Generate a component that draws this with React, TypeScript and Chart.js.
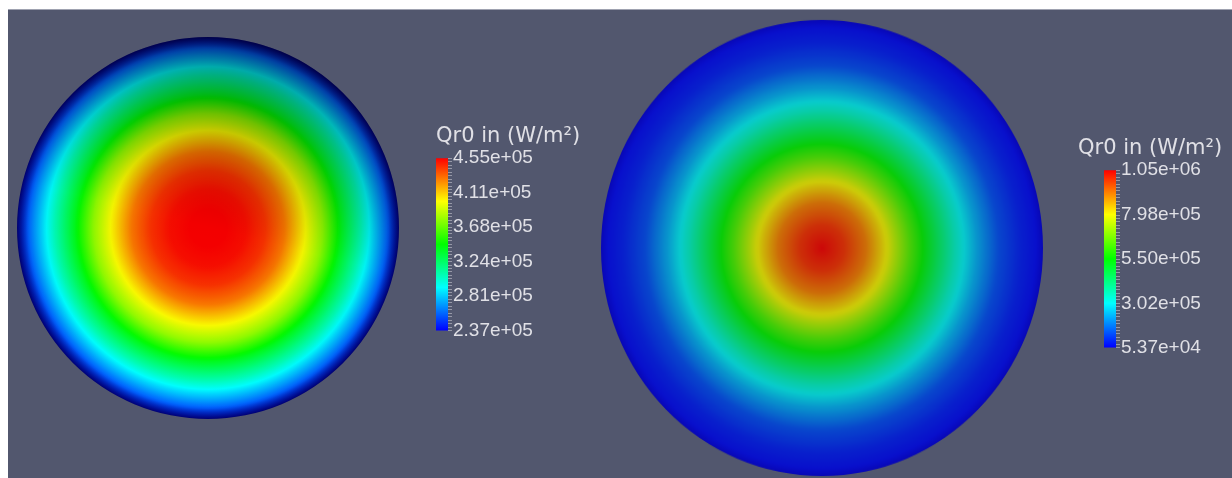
import { useEffect, useRef } from "react";
import { Chart, registerables } from "chart.js";

Chart.register(...registerables);

// Radial sample positions, as a fraction of the disk radius (centre -> rim)
const radialPositions = [0, 0.1, 0.2, 0.3, 0.4, 0.5, 0.6, 0.7, 0.8, 0.9, 1.0];

// Qr0 (W/m²) along the radius of each disk
const qrLeft = [4.55e5, 4.55e5, 4.52e5, 4.44e5, 4.29e5, 4.03e5, 3.77e5, 3.39e5, 3.07e5, 2.72e5, 2.37e5];
const qrRight = [1.05e6, 1.0e6, 9.2e5, 7.91e5, 6.31e5, 4.92e5, 3.52e5, 2.33e5, 1.33e5, 8.4e4, 5.37e4];

// Colour-bar ranges [min, max] and tick labels
const rangeLeft = [2.37e5, 4.55e5];
const rangeRight = [5.37e4, 1.05e6];
const tickLabelsLeft = ["2.37e+05", "2.81e+05", "3.24e+05", "3.68e+05", "4.11e+05", "4.55e+05"];
const tickLabelsRight = ["5.37e+04", "3.02e+05", "5.50e+05", "7.98e+05", "1.05e+06"];
const barTitle = "Qr0 in (W/m²)";

const BG = "#52576e";
const TEXT = "#e0e0e6";

// Blue -> red HSV rainbow (hue 240° down to 0°)
function rainbow(t: number): [number, number, number] {
  const c = Math.min(1, Math.max(0, t));
  const h = (1 - c) * 240;
  const x = 1 - Math.abs(((h / 60) % 2) - 1);
  let r = 0, g = 0, b = 0;
  if (h < 60) { r = 1; g = x; }
  else if (h < 120) { r = x; g = 1; }
  else if (h < 180) { g = 1; b = x; }
  else { g = x; b = 1; }
  return [r * 255, g * 255, b * 255];
}

function profileAt(values: number[], f: number): number {
  for (let i = 1; i < radialPositions.length; i++) {
    if (f <= radialPositions[i]) {
      const f0 = radialPositions[i - 1];
      const f1 = radialPositions[i];
      const u = (f - f0) / (f1 - f0);
      return values[i - 1] + (values[i] - values[i - 1]) * u;
    }
  }
  return values[values.length - 1];
}

type Shade = { base: number; ambient: number; rimStart: number; rimDark: number; topDark: number };

type DiskProps = {
  left: number;
  top: number;
  size: number;
  scaleY: number;
  values: number[];
  range: number[];
  shade: Shade;
};

function Disk({ left, top, size, scaleY, values, range, shade }: DiskProps) {
  const ref = useRef<HTMLCanvasElement>(null);

  useEffect(() => {
    const fill = (chart: Chart) => {
      const a = chart.chartArea;
      if (!a) return BG;
      const cx = (a.left + a.right) / 2;
      const cy = (a.top + a.bottom) / 2;
      const R = Math.min(a.right - a.left, a.bottom - a.top) / 2;
      const grad = chart.ctx.createRadialGradient(cx, cy, 0, cx, cy, R);
      const steps = 90;
      for (let k = 0; k <= steps; k++) {
        const f = k / steps;
        const v = profileAt(values, f);
        const [r, g, b] = rainbow((v - range[0]) / (range[1] - range[0]));
        let s = shade.base;
        if (f > shade.rimStart) s *= 1 - ((f - shade.rimStart) / (1 - shade.rimStart)) * shade.rimDark;
        const col = (c: number) => Math.round(Math.min(255, c * s + shade.ambient));
        grad.addColorStop(f, `rgb(${col(r)},${col(g)},${col(b)})`);
      }
      return grad;
    };

    // Soft lighting across the disk surface
    const lighting = {
      id: "lighting",
      afterDatasetsDraw(chart: Chart) {
        if (!shade.topDark) return;
        const arc = chart.getDatasetMeta(0).data[0] as any;
        const { x, y, outerRadius } = arc;
        const ctx = chart.ctx;
        ctx.save();
        ctx.beginPath();
        ctx.arc(x, y, outerRadius, 0, Math.PI * 2);
        const g = ctx.createLinearGradient(x + outerRadius * 0.25, y - outerRadius, x - outerRadius * 0.25, y + outerRadius);
        g.addColorStop(0, `rgba(0,0,0,${shade.topDark})`);
        g.addColorStop(0.5, `rgba(0,0,0,${shade.topDark * 0.12})`);
        g.addColorStop(1, "rgba(0,0,0,0)");
        ctx.fillStyle = g;
        ctx.fill();
        ctx.restore();
      },
    };

    const chart = new Chart(ref.current!, {
      type: "pie",
      data: {
        labels: ["Qr0"],
        datasets: [
          {
            data: [1],
            backgroundColor: (ctx: any) => fill(ctx.chart),
            borderWidth: 0,
            hoverOffset: 0,
          },
        ],
      },
      options: {
        animation: false,
        responsive: true,
        maintainAspectRatio: false,
        events: [],
        layout: { padding: 0 },
        plugins: { legend: { display: false }, tooltip: { enabled: false } },
      },
      plugins: [lighting],
    });
    return () => chart.destroy();
  }, []);

  return (
    <div
      style={{
        position: "absolute",
        left,
        top,
        width: size,
        height: size,
        transform: `scaleY(${scaleY})`,
      }}
    >
      <canvas ref={ref} />
    </div>
  );
}

type BarProps = {
  left: number;
  top: number;
  width: number;
  height: number;
  gap: number;
  barWidth: number;
  titlePadTop: number;
  titlePadBottom: number;
  range: number[];
  labels: string[];
  minorPerMajor: number;
};

function ColorBar({ left, top, width, height, gap, barWidth, titlePadTop, titlePadBottom, range, labels, minorPerMajor }: BarProps) {
  const ref = useRef<HTMLCanvasElement>(null);

  useEffect(() => {
    const majors = labels.map((s) => parseFloat(s));
    const tickValues: number[] = [];
    for (let i = 0; i < majors.length - 1; i++) {
      for (let k = 0; k < minorPerMajor; k++) {
        tickValues.push(majors[i] + ((majors[i + 1] - majors[i]) * k) / minorPerMajor);
      }
    }
    tickValues.push(majors[majors.length - 1]);

    const fill = (chart: Chart) => {
      const a = chart.chartArea;
      if (!a) return BG;
      const g = chart.ctx.createLinearGradient(0, a.bottom, 0, a.top);
      for (let k = 0; k <= 24; k++) {
        const [r, gg, b] = rainbow(k / 24);
        g.addColorStop(k / 24, `rgb(${Math.round(r)},${Math.round(gg)},${Math.round(b)})`);
      }
      return g;
    };

    const chart = new Chart(ref.current!, {
      type: "bar",
      data: {
        labels: [""],
        datasets: [
          {
            data: [[range[0], range[1]]] as any,
            xAxisID: "x",
            yAxisID: "y",
            backgroundColor: (ctx: any) => fill(ctx.chart),
            borderWidth: 0,
            borderSkipped: false,
            barPercentage: 1,
            categoryPercentage: 1,
          },
        ],
      },
      options: {
        animation: false,
        responsive: true,
        maintainAspectRatio: false,
        events: [],
        layout: { padding: { left: 0, right: 0, top: 0, bottom: 12 } },
        plugins: {
          legend: { display: false },
          tooltip: { enabled: false },
          title: {
            display: true,
            text: barTitle,
            align: "start",
            color: TEXT,
            font: { family: "'DejaVu Sans', sans-serif", size: 21, weight: "normal", lineHeight: 1.2 },
            padding: { top: titlePadTop, bottom: titlePadBottom },
          },
        },
        scales: {
          x: { display: false },
          y: {
            type: "linear",
            position: "right",
            min: range[0],
            max: range[1],
            afterBuildTicks: (s: any) => {
              s.ticks = tickValues.map((value) => ({ value }));
            },
            afterFit: (s: any) => { s.width = width - gap - barWidth; },
            ticks: {
              autoSkip: false,
              padding: 1,
              color: TEXT,
              font: { family: "'Liberation Sans', Arial, sans-serif", size: 19 },
              callback: (v: any) => {
                const i = majors.findIndex((m) => Math.abs(m - v) < (range[1] - range[0]) * 1e-4);
                return i >= 0 ? labels[i] : "";
              },
            },
            grid: {
              drawOnChartArea: false,
              drawTicks: true,
              tickLength: 4,
              color: "rgba(205,205,215,0.55)",
              lineWidth: 1,
            },
            border: { display: false },
          },
          pad: {
            type: "linear",
            position: "left",
            display: true,
            afterFit: (s: any) => { s.width = gap; },
            ticks: { display: false },
            grid: { display: false },
            border: { display: false },
          },
        },
      },
    });
    return () => chart.destroy();
  }, []);

  return (
    <div style={{ position: "absolute", left, top, width, height }}>
      <canvas ref={ref} />
    </div>
  );
}

// Page offset of the panel's content box
const OX = 8;
const OY = 10;

export default function App() {
  return (
    <div
      style={{
        position: "absolute",
        left: OX,
        top: OY - 1,
        width: 1232 - OX,
        height: 478 - OY,
        background: BG,
        borderTop: "1px solid #9fa2b0",
        overflow: "hidden",
      }}
    >
      <Disk
        left={17 - OX}
        top={37 - OY}
        size={382}
        scaleY={1}
        values={qrLeft}
        range={rangeLeft}
        shade={{ base: 1, ambient: 0, rimStart: 0.94, rimDark: 0.55, topDark: 0.4 }}
      />
      <ColorBar
        left={436 - OX}
        top={112 - OY}
        width={152}
        height={231}
        gap={0}
        barWidth={12}
        titlePadTop={12}
        titlePadBottom={9}
        range={rangeLeft}
        labels={tickLabelsLeft}
        minorPerMajor={10}
      />
      <Disk
        left={601 - OX}
        top={27 - OY}
        size={442}
        scaleY={1.032}
        values={qrRight}
        range={rangeRight}
        shade={{ base: 0.77, ambient: 8, rimStart: 0.97, rimDark: 0.12, topDark: 0 }}
      />
      <ColorBar
        left={1078 - OX}
        top={123 - OY}
        width={1232 - 1078}
        height={237}
        gap={26}
        barWidth={12}
        titlePadTop={13}
        titlePadBottom={9}
        range={rangeRight}
        labels={tickLabelsRight}
        minorPerMajor={13}
      />
    </div>
  );
}
